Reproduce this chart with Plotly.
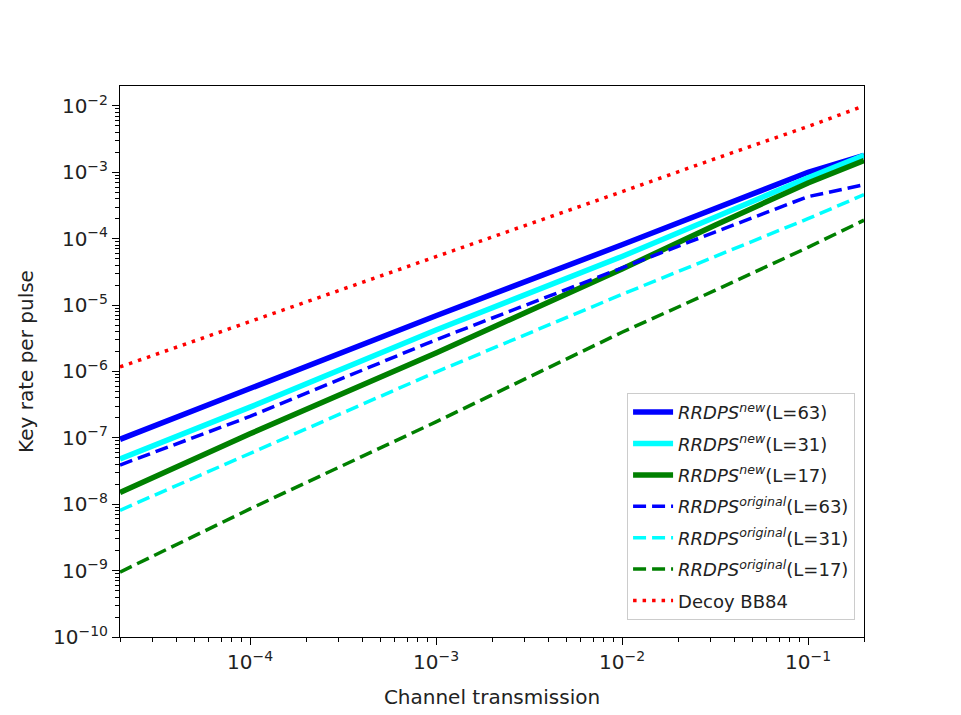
import plotly.graph_objects as go

# Channel transmission (x)
eta = [2e-5, 1e-4, 1e-3, 1e-2, 3.16e-2, 1e-1, 2e-1]

# Key rate per pulse
rrdps_new_63 = [9.5e-8, 5.6e-7, 6.9e-6, 8.1e-5, 2.8e-4, 1.0e-3, 1.8e-3]
rrdps_new_31 = [4.8e-8, 2.9e-7, 4.2e-6, 5.4e-5, 2.1e-4, 8.3e-4, 1.8e-3]
rrdps_new_17 = [1.5e-8, 1.15e-7, 1.9e-6, 3.5e-5, 1.6e-4, 6.9e-4, 1.5e-3]
rrdps_orig_63 = [3.9e-8, 2.1e-7, 3.0e-6, 3.7e-5, 1.26e-4, 4.3e-4, 6.5e-4]
rrdps_orig_31 = [8.1e-9, 5.9e-8, 9.8e-7, 1.45e-5, 5.4e-5, 2.0e-4, 4.6e-4]
rrdps_orig_17 = [9.5e-10, 8.5e-9, 1.74e-7, 3.9e-6, 1.66e-5, 7.4e-5, 1.9e-4]
decoy_bb84 = [1.17e-6, 5.6e-6, 5.4e-5, 5.1e-4, 1.6e-3, 4.9e-3, 1.0e-2]

x_tick_exps = [-4, -3, -2, -1]
y_tick_exps = [-10, -9, -8, -7, -6, -5, -4, -3, -2]
x_minor_exps = [-5, -4, -3, -2, -1]
y_minor_exps = [-10, -9, -8, -7, -6, -5, -4, -3, -2]
minor_mults = [2, 3, 4, 5, 6, 7, 8, 9]

series = [
    ("<i>RRDPS</i><sup><i>new</i></sup>(L=63)", rrdps_new_63, "#0000ff", "solid", 5.5),
    ("<i>RRDPS</i><sup><i>new</i></sup>(L=31)", rrdps_new_31, "#00ffff", "solid", 5.5),
    ("<i>RRDPS</i><sup><i>new</i></sup>(L=17)", rrdps_new_17, "#008000", "solid", 5.5),
    ("<i>RRDPS</i><sup><i>original</i></sup>(L=63)", rrdps_orig_63, "#0000ff", "13px,6px", 3.5),
    ("<i>RRDPS</i><sup><i>original</i></sup>(L=31)", rrdps_orig_31, "#00ffff", "13px,6px", 3.5),
    ("<i>RRDPS</i><sup><i>original</i></sup>(L=17)", rrdps_orig_17, "#008000", "13px,6px", 3.5),
    ("Decoy BB84", decoy_bb84, "#ff0000", "3.5px,6px", 3.5),
]

fig = go.Figure()
for i, (name, ys, color, dash, width) in enumerate(series):
    fig.add_trace(go.Scatter(
        x=eta, y=ys, mode="lines", name=name, legendgroup=f"g{i}",
        line=dict(color=color, dash=dash, width=width),
    ))

# empty helper trace so the minor-tick overlay axes get drawn
fig.add_trace(go.Scatter(x=[None], y=[None], xaxis="x2", yaxis="y2",
                         mode="lines", showlegend=False, hoverinfo="skip"))

font = dict(family="DejaVu Sans, sans-serif", size=20, color="#222222")
tickfont = dict(family="DejaVu Sans, sans-serif", size=20, color="#222222")

xr = [-4.699, -0.699]
yr = [-10, -1.7]

fig.update_layout(
    width=961, height=715,
    margin=dict(l=120, r=97, t=86, b=78),
    paper_bgcolor="white", plot_bgcolor="white",
    font=font,
    showlegend=True,
    legend=dict(
        x=0.988, y=0.031, xanchor="right", yanchor="bottom",
        bgcolor="rgba(255,255,255,0.8)", bordercolor="#cccccc", borderwidth=1,
        font=dict(family="DejaVu Sans, sans-serif", size=18, color="#222222"),
        tracegroupgap=5, itemwidth=40,
    ),
    xaxis=dict(
        type="log", range=xr,
        showline=True, linecolor="black", linewidth=1, mirror=True,
        showgrid=False, zeroline=False,
        ticks="outside", ticklen=7, tickcolor="black",
        tickvals=[10 ** e for e in x_tick_exps],
        ticktext=[f"10<sup>\u2212{-e}</sup>" for e in x_tick_exps],
        tickfont=tickfont,
        title=dict(text="Channel transmission", font=font, standoff=16),
    ),
    yaxis=dict(
        type="log", range=yr,
        showline=True, linecolor="black", linewidth=1, mirror=True,
        showgrid=False, zeroline=False,
        ticks="outside", ticklen=7, tickcolor="black",
        tickvals=[10 ** e for e in y_tick_exps],
        ticktext=[f"10<sup>\u2212{-e}</sup>" for e in y_tick_exps],
        tickfont=tickfont,
        title=dict(text="Key rate per pulse", font=font, standoff=14),
    ),
    xaxis2=dict(
        type="log", range=xr, overlaying="x", anchor="y", side="bottom",
        showline=False, showgrid=False, zeroline=False, showticklabels=False,
        ticks="outside", ticklen=4, tickcolor="black", tickwidth=1,
        tickvals=[m * 10 ** e for e in x_minor_exps for m in minor_mults],
    ),
    yaxis2=dict(
        type="log", range=yr, overlaying="y", anchor="x", side="left",
        showline=False, showgrid=False, zeroline=False, showticklabels=False,
        ticks="outside", ticklen=4, tickcolor="black", tickwidth=1,
        tickvals=[m * 10 ** e for e in y_minor_exps for m in minor_mults],
    ),
)

fig.write_html("out.html")
